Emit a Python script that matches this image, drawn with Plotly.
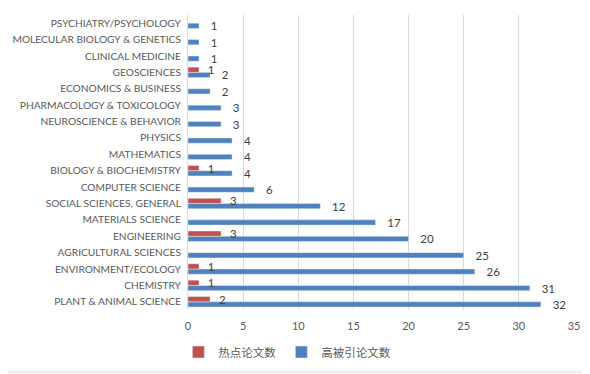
import plotly.graph_objects as go

categories = [
    "PLANT & ANIMAL SCIENCE", "CHEMISTRY", "ENVIRONMENT/ECOLOGY", "AGRICULTURAL SCIENCES",
    "ENGINEERING", "MATERIALS SCIENCE", "SOCIAL SCIENCES, GENERAL", "COMPUTER SCIENCE",
    "BIOLOGY & BIOCHEMISTRY", "MATHEMATICS", "PHYSICS", "NEUROSCIENCE & BEHAVIOR",
    "PHARMACOLOGY & TOXICOLOGY", "ECONOMICS & BUSINESS", "GEOSCIENCES", "CLINICAL MEDICINE",
    "MOLECULAR BIOLOGY & GENETICS", "PSYCHIATRY/PSYCHOLOGY",
]
hot_papers = [2, 1, 1, None, 3, None, 3, None, 1, None, None, None, None, None, 1, None, None, None]
highly_cited = [32, 31, 26, 25, 20, 17, 12, 6, 4, 4, 4, 3, 3, 2, 2, 1, 1, 1]
x_ticks = [0, 5, 10, 15, 20, 25, 30, 35]

label_font = dict(family="Lato, 'Noto Sans', sans-serif", size=11.5, color="#404040")

fig = go.Figure()
fig.add_trace(go.Bar(
    y=categories, x=highly_cited, orientation="h", name="高被引论文数",
    marker=dict(color="#4F81BD"), texttemplate="\u00a0\u00a0\u00a0\u00a0%{x}", textposition="outside",
    textfont=label_font, cliponaxis=False, constraintext="none", legendrank=2,
))
fig.add_trace(go.Bar(
    y=categories, x=hot_papers, orientation="h", name="热点论文数",
    marker=dict(color="#C0504D"), texttemplate="\u00a0\u00a0\u00a0%{x}", textposition="outside",
    textfont=label_font, cliponaxis=False, constraintext="none", legendrank=1,
))

# page body has an 8px margin, so the figure is sized/offset to compensate
fig.update_layout(
    width=582, height=366,
    margin=dict(l=180, r=16, t=7, b=64, autoexpand=False),
    barmode="group", bargap=0.36, bargroupgap=0.0,
    plot_bgcolor="white", paper_bgcolor="white",
    font=dict(family="Lato, 'Noto Sans CJK SC', sans-serif", size=11, color="#595959"),
    showlegend=True,
    legend=dict(
        orientation="h", xref="container", yref="container",
        x=0.48, y=0.06, xanchor="center", yanchor="middle",
        font=dict(family="'Noto Sans CJK SC', sans-serif", size=11.5, color="#595959"),
        traceorder="normal", itemwidth=30,
    ),
)
fig.update_xaxes(
    range=[0, 35], tickvals=x_ticks, showgrid=True, gridcolor="#d9d9d9", gridwidth=1,
    zeroline=False, showline=False, ticks="", automargin=False, ticklabelstandoff=8,
    tickfont=dict(size=11, color="#595959"),
)
fig.update_yaxes(
    type="category", categoryorder="array", categoryarray=categories, automargin=False,
    showgrid=False, showline=True, linecolor="#d9d9d9", linewidth=1, ticks="",
    tickfont=dict(size=10.2, color="#595959"), ticklabelstandoff=4,
)
fig.add_shape(
    type="line", xref="paper", yref="paper",
    x0=1.036, x1=1.036, y0=-0.21, y1=1.02,
    line=dict(color="#d9d9d9", width=1),
)
fig.add_shape(
    type="line", xref="paper", yref="paper",
    x0=-0.466, x1=1.036, y0=-0.21, y1=-0.21,
    line=dict(color="#d9d9d9", width=1),
)

fig.write_html("out.html")
